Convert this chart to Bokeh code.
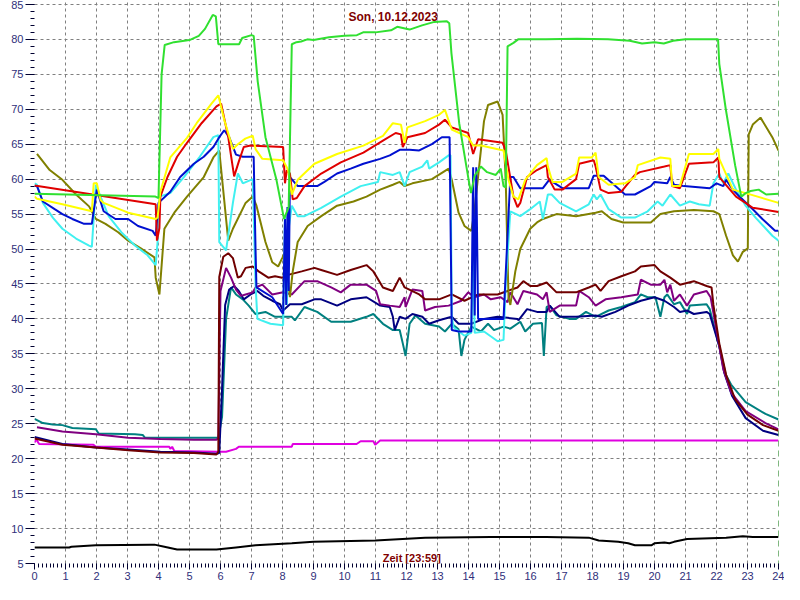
from bokeh.plotting import figure
from bokeh.models import Range1d, FixedTicker, Label, Span
from bokeh.embed import file_html
from bokeh.resources import INLINE

# ---- data: (hour, degC) ----
gruen = [(0.0,57.9),(3.9,57.5),(4.0,57.3),(4.1,75),(4.2,79.2),(4.5,79.6),(5.0,79.9),(5.3,80.5),(5.5,81.5),(5.75,83.5),(5.85,83.3),(5.93,79.3),(6.6,79.3),(6.7,80.2),(7.0,80.6),(7.07,80.5),(7.2,74),(7.45,66),(7.8,60),(8.05,54.3),(8.2,56),(8.3,79.3),(8.45,79.6),(8.6,79.7),(8.8,80.0),(9.0,79.9),(9.5,80.3),(10.0,80.5),(10.4,80.6),(10.6,81),(11.0,81.0),(11.5,81.3),(11.7,81.8),(12.1,81.4),(12.5,82.0),(12.9,82.5),(13.3,82.6),(13.38,82.3),(13.45,78),(13.7,68),(14.0,60),(14.08,58.0),(14.2,60.5),(14.4,61.8),(14.6,61.0),(14.88,60.6),(15.04,61.5),(15.13,59),(15.2,58.8),(15.26,79),(15.45,79.5),(15.6,80),(16.5,80),(17.5,80.1),(18.5,80),(19.2,79.8),(19.6,79.4),(20.0,79.6),(20.3,79.4),(20.6,79.8),(21.0,80),(22.05,80),(22.09,76.5),(22.3,70),(22.6,62),(22.8,57.5),(22.94,58),(23.1,58.3),(23.36,58.5),(23.6,57.8),(24.0,57.9)]

gelb = [(0.0,57.5),(0.08,57.2),(0.9,56.4),(1.85,55.4),(1.91,59.4),(2.01,59.4),(2.13,57.0),(2.23,56.6),(3.02,55.2),(3.91,54.3),(3.97,54.5),(4.06,58.2),(4.38,63.1),(4.92,65.9),(5.23,68),(5.71,70.8),(5.93,72),(6.12,68.5),(6.4,64.3),(6.56,65.0),(6.8,65.8),(7.04,66.2),(7.13,64.3),(7.35,62.9),(8.02,62.7),(8.18,61.3),(8.30,57.8),(8.49,59.9),(9.03,62.2),(9.76,63.6),(10.61,64.8),(11.24,66.2),(11.56,68),(11.82,67.8),(11.94,65.2),(12.03,67.4),(12.6,68.3),(13.05,69.2),(13.24,69.9),(13.46,67.1),(13.99,66),(14.15,64.8),(14.4,64.8),(15.13,64.1),(15.29,59.9),(15.45,57.5),(15.61,57.1),(15.83,59.9),(16.21,62),(16.52,63),(16.56,61.8),(16.71,59.6),(17.03,59.6),(17.47,60.8),(17.57,63.1),(17.98,63.1),(18.1,63.8),(18.2,60.3),(18.52,59.2),(19.05,59.4),(19.37,60.3),(19.46,62),(20.19,63.1),(20.51,62.9),(20.57,59),(20.82,59),(21.11,63.6),(21.9,63.6),(22.06,64.3),(22.09,62.9),(22.53,58.5),(22.94,58),(24.0,56.6)]

rot = [(0.0,59.1),(3.91,56.4),(3.95,51.2),(4.03,53),(4.06,57.5),(4.29,60.3),(4.6,63.2),(4.92,65.2),(5.39,68),(5.87,70.4),(6.02,70.8),(6.25,66),(6.44,60.4),(6.59,62.5),(6.75,64.6),(6.97,64.8),(8.02,64.6),(8.08,59.4),(8.14,61.3),(8.24,60.8),(8.33,57.1),(8.46,57.3),(8.71,59),(9.25,60.8),(9.88,62.4),(10.61,63.8),(11.24,65.5),(11.65,66.6),(11.82,66.4),(11.88,64.6),(12.03,66),(12.6,66.6),(13.05,67.8),(13.24,68.5),(13.46,67.4),(13.99,66.6),(14.15,63.6),(14.31,65.7),(15.1,65.2),(15.2,64.1),(15.45,57.5),(15.58,56.0),(15.67,56.6),(15.89,60.3),(16.21,61.3),(16.52,62),(16.56,60.3),(16.78,58.5),(17.03,58.5),(17.47,60),(17.57,62.2),(18.04,62.7),(18.1,61.8),(18.26,58.5),(18.52,58),(18.93,58.2),(19.37,60.6),(19.53,61),(20.32,61.8),(20.51,62),(20.57,59),(20.82,58.7),(21.11,62.2),(21.9,62.4),(22.06,63.1),(22.09,60.3),(22.63,57.5),(23.17,55.9),(24.0,55.3)]

blau = [(0.0,59.0),(0.08,59.0),(0.27,56.8),(0.65,55.7),(0.9,55),(1.22,54.3),(1.6,53.6),(1.85,53.6),(2.01,58.5),(2.23,55.4),(2.61,54.3),(3.02,54.3),(3.34,53.3),(3.81,52.6),(3.91,51.9),(4.0,56.6),(4.38,58.2),(4.7,60.3),(5.14,62.2),(5.46,63.2),(5.77,64.6),(5.96,66),(6.12,67),(6.28,66),(6.5,63.5),(6.72,63.2),(7.07,63.2),(7.13,50),(7.16,44.5),(7.67,43.1),(8.02,40.7),(8.08,54.3),(8.12,42),(8.16,56),(8.2,44),(8.24,60.3),(8.49,59),(9.12,59),(9.35,59.6),(9.76,60.8),(10.2,61.5),(10.61,62.2),(11.15,62.9),(11.46,63.4),(11.78,64.2),(12.1,64.2),(12.41,64.1),(12.82,65),(13.14,66),(13.39,66),(13.46,38.4),(13.68,38.2),(14.09,38.2),(14.15,61.7),(14.2,40.5),(14.25,61.7),(14.31,40),(15.13,40),(15.35,60.3),(15.45,60.3),(15.67,58.7),(16.4,58.7),(16.62,60),(16.71,59.6),(17.03,58.7),(17.88,58.7),(18.04,60.5),(18.36,60.5),(18.74,59),(19.05,57.8),(19.37,57.8),(19.88,59),(20.0,59.6),(20.41,59.4),(20.51,60.3),(20.63,59.2),(20.95,59),(21.78,58.7),(22.0,59.4),(22.22,59),(22.31,59.9),(22.53,58.5),(22.74,57.5),(23.17,55.7),(23.48,54.3),(23.89,52.6),(24.0,52.6)]

tuerkis = [(0.0,59.4),(0.08,59.2),(0.27,56.6),(0.59,54.5),(0.9,52.9),(1.34,51.5),(1.76,50.5),(1.85,50.3),(1.98,59.2),(2.13,57.5),(2.39,54.7),(2.8,52.4),(3.24,50.5),(3.65,49.1),(3.91,47.7),(3.97,51),(4.03,57.5),(4.38,58),(4.82,60.3),(5.33,63.2),(5.77,66),(5.93,66.3),(5.96,51),(6.18,49.8),(6.4,56.6),(6.56,60.8),(6.72,59.4),(7.04,60),(7.13,45),(7.19,40),(7.61,39.3),(8.02,39.1),(8.08,54.7),(8.14,42),(8.2,53),(8.3,56.2),(8.49,54.7),(8.71,54.7),(9.25,55.9),(9.88,57.5),(10.52,59),(11.08,59.6),(11.15,61),(11.56,60.6),(11.78,61),(11.94,59),(12.1,61),(12.51,61.8),(12.67,62.7),(12.73,61.5),(13.05,62.4),(13.36,63.4),(13.42,63.4),(13.46,40.3),(13.52,38.8),(13.87,37.6),(14.09,38),(14.15,50),(14.2,38),(14.5,38.2),(14.94,36.8),(15.13,37),(15.2,45),(15.35,55.4),(15.67,54.7),(15.99,55.7),(16.3,56.8),(16.4,54.3),(16.56,57.8),(16.68,57.8),(16.94,56.6),(17.47,55.4),(17.88,56.4),(18.04,57.8),(18.14,57.1),(18.26,57.8),(18.52,55.7),(18.93,54.5),(19.37,54.5),(19.78,55.4),(20.1,56.8),(20.26,56.2),(20.51,57.8),(20.82,56.2),(21.14,56.8),(21.43,56.4),(21.78,56.2),(21.9,59.4),(22.09,60.8),(22.22,59.4),(22.38,60.8),(22.63,58.5),(22.94,56.2),(23.26,54.5),(23.8,51.9),(24.0,51.2)]

oliv = [(0.08,63.6),(0.49,61.3),(0.9,59.9),(1.34,57.8),(1.76,56.1),(1.98,54.3),(2.29,53.6),(2.7,52.4),(3.02,51.2),(3.43,50.1),(3.87,48.8),(3.91,45.9),(4.03,43.5),(4.19,52.9),(4.51,55.2),(4.92,57.5),(5.46,60.3),(5.77,63.1),(5.96,64.1),(6.25,51.2),(6.4,52.9),(6.81,56.6),(7.04,57.5),(7.16,56.2),(7.45,51),(7.67,48.1),(7.86,47.5),(7.99,48.7),(8.08,49.6),(8.24,43.1),(8.33,46.8),(8.49,51),(8.81,53.3),(9.25,54.7),(9.76,56.2),(10.29,56.8),(10.71,57.5),(11.15,58.5),(11.56,59.2),(11.78,59.6),(11.94,59),(12.19,59.4),(12.82,60),(13.36,61.5),(13.46,59.9),(13.68,55.2),(13.87,53.3),(14.09,52.6),(14.18,55),(14.5,68.3),(14.63,70.6),(14.94,71.1),(15.1,69.2),(15.2,60),(15.29,43.1),(15.35,42),(15.51,46.8),(15.67,50),(15.99,52.9),(16.21,53.8),(16.4,54.3),(16.84,55),(17.47,54.7),(18.1,55.2),(18.3,55.4),(18.61,54.3),(18.83,54),(18.99,53.8),(19.88,53.8),(20.19,55),(20.63,55.4),(21.27,55.6),(21.9,55.4),(22.09,55),(22.31,51.9),(22.53,49.1),(22.69,48.2),(22.85,49.6),(23.01,50.1),(23.04,66.4),(23.17,67.8),(23.42,68.8),(23.8,66),(24.0,64.1)]

braun = [(0.0,22.9),(0.9,22.0),(1.98,21.6),(3.02,21.2),(4.06,20.9),(5.14,20.8),(5.87,20.6),(5.93,21),(5.96,46),(6.09,48.9),(6.25,49.4),(6.4,48.7),(6.56,45.9),(6.66,46.1),(6.81,47.3),(7.04,47.5),(7.23,46.8),(7.54,45.9),(7.76,46.1),(7.99,45.9),(8.18,46.3),(8.62,46.8),(9.03,47.3),(9.25,47),(9.76,46.3),(10.2,47),(10.71,47.7),(10.93,46.8),(11.24,44.5),(11.56,44),(11.78,45.9),(11.94,44.5),(12.41,43.5),(12.6,42.8),(13.05,42.8),(13.46,43.5),(13.87,42.6),(14.31,43.5),(14.94,43.5),(15.58,44.5),(15.77,45.4),(15.99,44.7),(16.21,44.7),(16.52,45.2),(16.84,43.8),(17.47,43.8),(17.88,44.5),(18.1,44.9),(18.26,44),(18.52,45.4),(18.93,46.1),(19.37,46.8),(19.56,47.5),(20.0,47.7),(20.19,46.8),(20.51,45.9),(20.82,44.9),(21.27,45.4),(21.68,44.7),(21.84,44.5),(21.9,42),(22.09,36.5),(22.31,32),(22.6,28.5),(23.0,26.3),(23.5,24.8),(24.0,24.0)]

lila = [(0.08,24.5),(0.9,23.9),(1.98,23.5),(3.02,23.0),(4.06,22.8),(5.14,22.7),(5.87,22.7),(5.93,23),(6.0,44),(6.18,47.3),(6.34,45.9),(6.5,44.2),(6.66,43.3),(6.81,43.5),(7.04,43.8),(7.13,44.5),(7.35,44.9),(7.67,43.5),(8.02,43.8),(8.3,43.5),(8.71,45.4),(9.12,45.4),(9.57,44.5),(9.88,43.8),(10.2,44.9),(10.71,44.9),(11.02,44),(11.15,42.1),(11.46,41.9),(11.78,41.7),(11.94,43.1),(11.97,41.7),(12.19,44.2),(12.51,44),(12.6,41.2),(12.92,41.7),(13.36,41.9),(13.77,42.6),(13.99,43.8),(14.18,43.1),(14.5,43.5),(14.72,42.8),(15.04,43.1),(15.26,42.4),(15.35,43.8),(15.58,42.1),(15.77,44),(16.21,43.5),(16.4,42.8),(16.52,43.8),(16.62,41),(16.94,41.9),(17.47,41.9),(17.57,44),(17.88,43.1),(18.1,41.9),(18.42,42.8),(18.93,43.1),(19.46,43.5),(19.56,45.6),(19.88,44.9),(20.19,44.9),(20.32,45.6),(20.41,43.8),(20.51,44.9),(20.63,42.6),(20.82,43.5),(21.05,41.9),(21.27,43.5),(21.68,44),(21.81,43.1),(22.09,36.1),(22.22,32.8),(22.47,29.5),(22.94,26.8),(23.58,25.1),(24.0,24.2)]

marine = [(0.0,23.1),(0.9,22.1),(1.98,21.6),(3.02,21.3),(4.06,21.0),(5.14,20.9),(5.87,20.7),(5.96,20.8),(6.05,30),(6.15,42),(6.28,44.2),(6.44,44.7),(6.59,44),(6.75,42.8),(6.97,43.5),(7.19,44),(7.38,43.3),(7.67,42.6),(7.92,42.1),(8.02,41.2),(8.24,42.1),(8.62,42.1),(9.03,42.8),(9.25,42.8),(9.76,41.9),(10.2,42.8),(10.71,43.1),(11.15,41.9),(11.46,41.7),(11.56,40.3),(11.62,38.4),(11.78,40.3),(11.97,40),(12.19,40.7),(12.51,40.3),(12.73,39.3),(13.05,39.8),(13.46,40.3),(13.68,39.3),(14.09,39.3),(14.5,40),(14.94,40.3),(15.58,40),(15.61,39.8),(15.89,41.4),(16.21,41),(16.52,41),(16.62,41.9),(16.94,40.3),(17.47,40.3),(18.1,40.5),(18.3,40.3),(18.74,41),(19.15,41.9),(19.56,42.6),(20.0,43.1),(20.32,42.6),(20.63,41.7),(20.82,41),(21.05,41.2),(21.27,40.7),(21.68,41),(21.78,40.7),(22.09,36.1),(22.25,32.3),(22.5,29),(22.94,25.8),(23.5,24),(24.0,23.4)]

petrol = [(0.0,25.7),(0.27,25.1),(0.59,24.9),(0.9,24.8),(1.22,24.4),(1.98,24.2),(2.07,23.6),(3.24,23.5),(3.49,23.4),(3.56,23.0),(5.93,23.0),(6.05,26),(6.18,40),(6.34,44.5),(6.5,43.5),(6.72,42.8),(6.91,41.9),(7.13,40.7),(7.45,41),(7.76,40.3),(8.3,40.3),(8.4,39.8),(8.71,41.7),(9.12,41),(9.57,39.6),(10.2,39.6),(10.71,40.3),(10.93,40.7),(11.24,39.3),(11.56,38.4),(11.78,38.4),(11.88,36.5),(11.97,34.7),(12.1,39.3),(12.29,40.5),(12.6,39.3),(13.05,38.9),(13.24,38.2),(13.46,39.3),(13.68,38.5),(13.77,34.7),(13.87,37),(14.09,38.9),(14.4,38.2),(14.63,39.3),(14.82,38.4),(15.13,38.9),(15.35,38.6),(15.67,39.6),(15.83,38.2),(16.08,39.3),(16.37,39.4),(16.43,34.7),(16.52,41.7),(16.62,41.9),(16.84,40.5),(17.25,40),(17.47,40),(17.79,41),(18.1,40.3),(18.52,41.2),(18.93,41.7),(19.37,42.4),(19.56,43.5),(19.78,43.1),(20.03,43.1),(20.19,40.3),(20.32,43.1),(20.41,43.5),(20.63,42.1),(20.82,42.4),(21.05,40.7),(21.14,41.9),(21.68,42.1),(21.78,41.4),(22.09,36.1),(22.3,32),(22.47,30.6),(22.94,28.1),(23.58,26.4),(24.0,25.6)]

magenta = [(0.0,22.3),(0.05,22.8),(0.15,22.1),(1.9,22.0),(1.98,21.7),(4.35,21.7),(4.38,21.4),(4.44,21.7),(4.51,21.1),(5.93,21.0),(6.18,21.0),(6.5,21.4),(6.59,21.7),(8.3,21.7),(8.33,22.1),(10.39,22.1),(10.52,22.5),(10.93,22.5),(10.99,22.0),(11.15,22.6),(24.0,22.6)]

schwarz = [(0.0,7.3),(1.12,7.3),(1.19,7.4),(1.98,7.6),(3.75,7.7),(3.87,7.7),(4.19,7.4),(4.6,7.0),(5.23,7.0),(5.87,7.0),(6.5,7.3),(7.13,7.6),(8.3,7.9),(9.0,8.1),(11.0,8.3),(12.6,8.7),(14.72,8.8),(16.5,8.8),(17.88,8.7),(18.2,8.3),(18.83,8.1),(19.15,7.9),(19.37,7.6),(19.9,7.6),(20.0,7.9),(20.32,8.0),(20.48,7.9),(20.63,8.1),(21.05,8.5),(22.31,8.7),(22.85,8.9),(23.17,8.8),(24.0,8.8)]

x_ticks = list(range(0, 25))
y_ticks = list(range(5, 90, 5))
title_text = "Son, 10.12.2023"
x_label = "Zeit [23:59]"
y_label = "°C"

series = [
    (schwarz, "#000000"),
    (magenta, "#e000e0"),
    (petrol, "#008080"),
    (marine, "#000080"),
    (lila, "#800080"),
    (braun, "#700000"),
    (oliv, "#808000"),
    (tuerkis, "#40f0f0"),
    (blau, "#0010d0"),
    (rot, "#e00000"),
    (gelb, "#ffff00"),
    (gruen, "#30e030"),
]

p = figure(width=784, height=584, x_range=Range1d(0, 24), y_range=Range1d(5, 85.56),
           output_backend="svg", toolbar_location=None,
           min_border_left=34, min_border_right=6, min_border_top=0, min_border_bottom=21)
p.outline_line_color = None
p.background_fill_color = "white"
p.border_fill_color = "white"

for data, col in series:
    p.line([d[0] for d in data], [d[1] for d in data], line_color=col, line_width=2)

tick_col = "#30307a"
p.xaxis.ticker = FixedTicker(ticks=x_ticks, minor_ticks=[i / 8 for i in range(0, 24 * 8 + 1)])
p.yaxis.ticker = FixedTicker(ticks=y_ticks, minor_ticks=list(range(5, 86)))
for ax in (p.xaxis, p.yaxis):
    ax.axis_line_color = None
    ax.major_tick_in = 0
    ax.minor_tick_in = 0
    ax.major_tick_line_color = "#000030"
    ax.minor_tick_line_color = "#000030"
    ax.major_label_text_color = tick_col
    ax.major_label_text_font = "Liberation Sans"
    ax.major_label_text_font_size = "11px"
p.yaxis.major_tick_out = 9
p.yaxis.minor_tick_out = 4
p.yaxis.major_label_standoff = 2
p.xaxis.major_tick_out = 6
p.xaxis.minor_tick_out = 4
p.xaxis.major_label_standoff = 2

p.xgrid.ticker = FixedTicker(ticks=x_ticks)
p.ygrid.ticker = FixedTicker(ticks=y_ticks)
for g in (p.xgrid, p.ygrid):
    g.grid_line_color = "#808080"
    g.grid_line_dash = "3 3"
    g.grid_line_width = 1

p.add_layout(Span(location=24, dimension="height", line_color="#007000", line_dash="6 4", line_width=1))

p.add_layout(Label(x=11.57, y=83.18, text=title_text, text_align="center", text_baseline="middle",
                   text_color="#800000", text_font="Liberation Sans", text_font_style="bold",
                   text_font_size="12px"))
p.add_layout(Label(x=12.17, y=5.73, text=x_label, text_align="center", text_baseline="middle",
                   text_color="#800000", text_font="Liberation Sans", text_font_style="bold",
                   text_font_size="11px"))
p.add_layout(Label(x=-0.78, y=44.2, text=y_label, text_align="center", text_baseline="middle",
                   angle=1.5708, text_color="#802020", text_font="Liberation Sans",
                   text_font_size="12px"))

open("out.html", "w").write(file_html(p, INLINE))
